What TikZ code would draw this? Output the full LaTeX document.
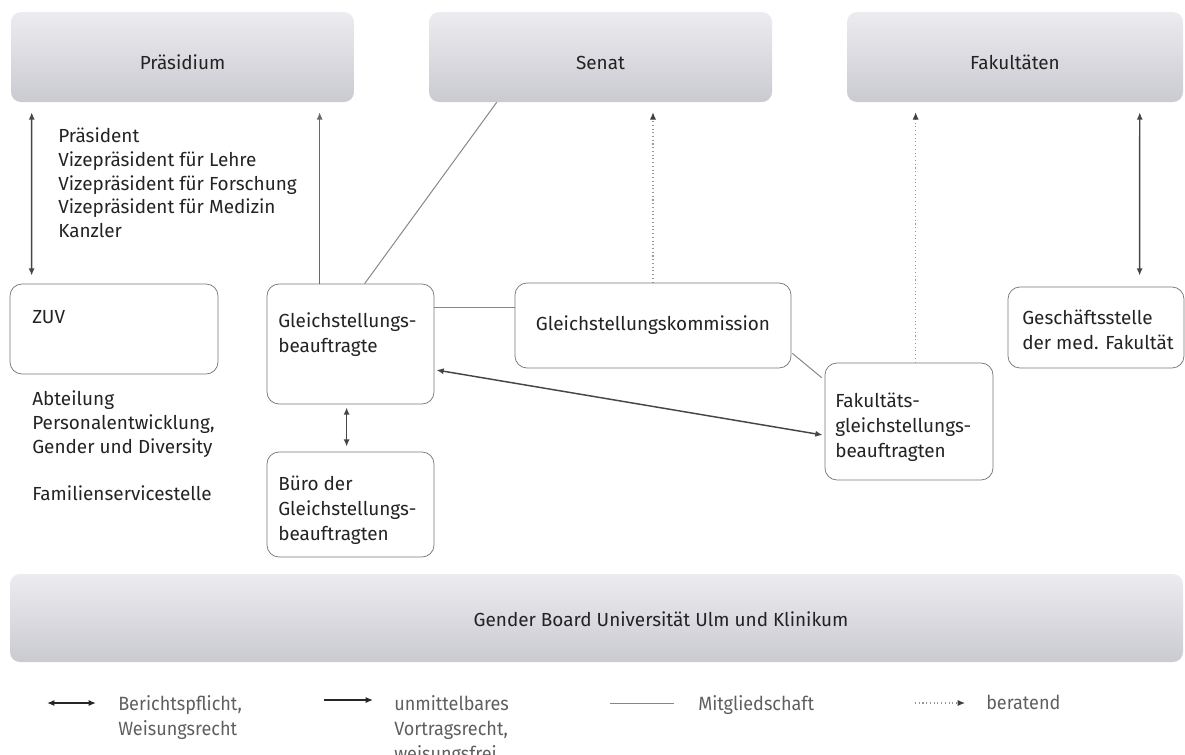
\documentclass[tikz,border=0pt]{standalone}
\usepackage{fontspec}
\setmainfont{Fira Sans}
\newfontfamily\legendfont{Fira Sans}[FakeStretch=0.94]
\usetikzlibrary{arrows.meta,calc}
\definecolor{boxtop}{RGB}{236,236,240}
\definecolor{boxbot}{RGB}{202,202,209}
\definecolor{boxline}{RGB}{120,120,120}
\definecolor{txt}{RGB}{35,35,35}
\definecolor{legtxt}{RGB}{95,95,95}
\definecolor{dblcol}{RGB}{70,70,70}
\definecolor{arrcol}{RGB}{105,105,105}
\definecolor{memcol}{RGB}{135,135,135}
\definecolor{advcol}{RGB}{150,150,150}
\begin{document}
\begin{tikzpicture}[x=0.75pt,y=-0.75pt,
  mainfont/.style={font=\fontsize{14.2}{18.75}\selectfont, text=txt},
  graybox/.style={rounded corners=7.5pt, top color=boxtop, bottom color=boxbot, draw=none,
    inner sep=0pt, text height=18pt, text depth=0pt, mainfont},
  whitebox/.style={rounded corners=9pt, draw=boxline, line width=0.55pt, fill=white, inner sep=0pt, mainfont},
  boxsize/.style 2 args={minimum width=#1*0.75pt, minimum height=#2*0.75pt},
  txtnode/.style={anchor=north west, inner sep=0pt, align=left, mainfont},
  legtext/.style={anchor=north west, inner sep=0pt, align=left, text=legtxt,
    font=\legendfont\fontsize{14.4}{18.75}\selectfont},
  dblarr/.style={{Latex[length=5.5pt,width=4.6pt]}-{Latex[length=5.5pt,width=4.6pt]}, draw=dblcol, line width=1.1pt},
  onearr/.style={-{Latex[length=5.5pt,width=4.6pt]}, draw=arrcol, line width=1pt},
  member/.style={draw=memcol, line width=0.75pt},
  advise/.style={-{Latex[length=5.5pt,width=4.6pt,color=black!75]}, draw=advcol, line width=0.8pt, dotted}
]
\useasboundingbox (0,0) rectangle (1185,754);

% top gray boxes
\node[graybox, boxsize={343}{90}] (prae) at (182.5,57) {Präsidium};
\node[graybox, boxsize={343}{90}] (senat) at (600.5,57) {Senat};
\node[graybox, boxsize={336}{90}] (fak) at (1015,57) {Fakultäten};

% bottom gray box
\node[graybox, boxsize={1173}{88}] (gb) at (596.5,618) {};
\node[mainfont, inner sep=0pt] (gbtext) at (661,619) {Gender Board Universität Ulm und Klinikum};

% white boxes
\node[whitebox, boxsize={208}{90}] (zuv) at (114,329) {};
\node[whitebox, boxsize={167}{120}] (gs) at (350.5,344) {};
\node[whitebox, boxsize={167}{105}] (buero) at (350.5,504.5) {};
\node[whitebox, boxsize={276}{85}] (komm) at (653,325.5) {Gleichstellungskommission};
\node[whitebox, boxsize={168}{117}] (fgb) at (909,421.5) {};
\node[whitebox, boxsize={176}{81}] (gst) at (1096,327.5) {};

% texts
\node[txtnode, font=\fontsize{14.2}{17.8}\selectfont] (list) at (58,127.5)
  {Präsident\\Vizepräsident für Lehre\\Vizepräsident für Forschung\\Vizepräsident für Medizin\\Kanzler};
\node[txtnode] (zuvtext) at (32,310.5) {ZUV};
\node[txtnode, font=\fontsize{14.2}{17.8}\selectfont] (abt) at (32,390.5)
  {Abteilung\\Personalentwicklung,\\Gender und Diversity\\[17.8pt]Familienservicestelle};
\node[txtnode] (gstext) at (278,312.5) {Gleichstellungs-\\beauftragte};
\node[txtnode] (buerotext) at (278,475.5) {Büro der\\Gleichstellungs-\\beauftragten};
\node[txtnode] (fgbtext) at (835,392.5) {Fakultäts-\\gleichstellungs-\\beauftragten};
\node[txtnode] (gsttext) at (1022,309.5) {Geschäftsstelle\\der med. Fakultät};

% connectors
\draw[dblarr] ($(prae.south west)+(21,10)$) -- ($(zuv.north west)+(22,-8)$);
\draw[onearr] ($(gs.north west)+(53,0)$) -- ($(prae.south -| gs.north west)+(53,10)$);
\draw[member] ($(gs.north west)+(98,0)$) -- ($(senat.south west)+(68,0)$);
\draw[member] ($(gs.north east)+(0,24)$) -- ($(komm.north west)+(0,25)$);
\draw[advise] (komm.north) -- ($(senat.south -| komm.north)+(0,10)$);
\draw[member] ($(komm.south east)+(1,-15)$) -- ($(fgb.north west)+(-3,15)$);
\draw[dblarr] ($(gs.east)+(2,26)$) -- ($(fgb.west)+(-2,13.5)$);
\draw[dblarr] ($(gs.south west)+(80,3)$) -- ($(buero.north west)+(80,-5)$);
\draw[advise] ($(fgb.north west)+(91,0)$) -- ($(fak.south -| fgb.north west)+(91,10)$);
\draw[dblarr] ($(fak.south west)+(293,10)$) -- ($(gst.north west)+(132,-11)$);

% legend
\coordinate (l1a) at (47,703); \coordinate (l1b) at (96,703);
\coordinate (l2a) at (324,700); \coordinate (l2b) at (373,700);
\coordinate (l3a) at (610,703); \coordinate (l3b) at (674,703);
\coordinate (l4a) at (915,703); \coordinate (l4b) at (965,703);
\draw[dblarr, draw=black!85] (l1a) -- (l1b);
\draw[onearr, draw=black!85] (l2a) -- (l2b);
\draw[member] (l3a) -- (l3b);
\draw[advise] (l4a) -- (l4b);
\node[legtext] (leg1) at (118,695) {Berichtspflicht,\\Weisungsrecht};
\node[legtext] (leg2) at (394,695) {unmittelbares\\Vortragsrecht,\\weisungsfrei};
\node[legtext] (leg3) at (698,695) {Mitgliedschaft};
\node[legtext] (leg4) at (986,695) {beratend};
\end{tikzpicture}
\end{document}
